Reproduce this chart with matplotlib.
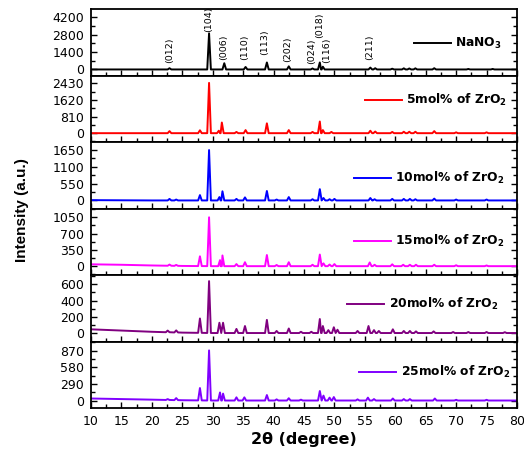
import matplotlib
matplotlib.use("Agg")
import matplotlib.pyplot as plt
import numpy as np
from matplotlib.ticker import MultipleLocator

plt.rcParams['font.family'] = 'DejaVu Sans'
plt.rcParams['mathtext.default'] = 'bf'

labels = ['NaNO$_3$', '5mol% of ZrO$_2$', '10mol% of ZrO$_2$',
          '15mol% of ZrO$_2$', '20mol% of ZrO$_2$', '25mol% of ZrO$_2$']
colors = ['black', '#ff0000', '#0000ff', '#ff00ff', '#800080', '#8000ff']

# peak positions (2theta) and heights
pos_nano3 = [22.9, 29.4, 31.9, 35.4, 38.9, 42.5, 46.4, 47.6, 48.1, 55.9, 56.7,
             59.5, 61.4, 62.3, 63.3, 66.4, 72, 76]
h_nano3 = [100, 2900, 500, 200, 560, 250, 80, 560, 220, 150, 100,
           60, 90, 80, 90, 100, 40, 40]

pos_5 = [22.9, 27.9, 29.4, 31.0, 31.5, 33.9, 35.4, 38.9, 42.5, 46.4, 47.6, 48.1,
         49.5, 55.9, 56.7, 59.5, 61.4, 62.3, 63.3, 66.4, 70, 75]
h_5 = [100, 140, 2450, 120, 520, 60, 150, 480, 150, 60, 570, 150,
       60, 120, 80, 60, 70, 70, 70, 100, 40, 40]

pos_10 = [22.9, 24.0, 27.9, 29.4, 31.1, 31.6, 33.9, 35.3, 38.9, 40.5, 42.5, 46.4,
          47.6, 48.2, 49.2, 50.0, 55.9, 56.6, 59.5, 61.4, 62.4, 63.3, 66.4, 70, 75]
h_10 = [50, 30, 175, 1650, 110, 300, 50, 100, 310, 30, 110, 40,
        370, 80, 40, 50, 80, 40, 50, 50, 50, 40, 60, 30, 30]

pos_15 = [22.9, 24.0, 27.9, 29.4, 31.2, 31.6, 33.9, 35.3, 38.9, 40.5, 42.5, 46.4,
          47.6, 48.2, 49.2, 50.0, 55.8, 56.6, 59.5, 61.3, 62.4, 63.4, 66.4, 70, 75]
h_15 = [25, 20, 210, 1050, 130, 230, 45, 85, 240, 25, 85, 30,
        250, 60, 35, 45, 80, 30, 40, 30, 30, 30, 30, 20, 15]

pos_20 = [22.6, 24.0, 27.9, 29.4, 31.1, 31.7, 33.9, 35.3, 38.9, 40.5, 42.5, 44.5,
          46.2, 47.6, 48.1, 49.0, 49.9, 50.5, 53.8, 55.6, 56.5, 57.3, 59.6, 61.4,
          62.4, 63.4, 66.3, 69.5, 72, 75, 78]
h_20 = [20, 25, 175, 630, 125, 125, 50, 85, 160, 25, 55, 15,
        15, 170, 85, 35, 70, 40, 25, 85, 35, 25, 45, 25,
        25, 20, 20, 12, 12, 12, 10]

pos_25 = [22.6, 24.0, 27.9, 29.4, 31.2, 31.7, 33.9, 35.2, 38.9, 40.5, 42.5, 44.5,
          47.6, 48.2, 49.2, 49.9, 53.8, 55.5, 56.5, 59.6, 61.4, 62.4, 66.5, 70, 75]
h_25 = [15, 35, 215, 870, 140, 120, 55, 55, 95, 20, 40, 15,
        165, 85, 50, 60, 20, 50, 25, 35, 25, 25, 35, 12, 12]

# background level read at a few angles
bg_x = [10, 15, 20, 25, 30, 80]
bg_nano3 = [0, 0, 0, 0, 0, 0]
bg_5 = [0, 0, 0, 0, 0, 0]
bg_10 = [10, 5, 0, 0, 0, 0]
bg_15 = [40, 30, 15, 5, 0, 0]
bg_20 = [50, 35, 20, 10, 5, 5]
bg_25 = [40, 30, 20, 10, 5, 5]

peaks = [(pos_nano3, h_nano3, bg_nano3), (pos_5, h_5, bg_5), (pos_10, h_10, bg_10),
         (pos_15, h_15, bg_15), (pos_20, h_20, bg_20), (pos_25, h_25, bg_25)]

yticks = [[0, 1400, 2800, 4200], [0, 810, 1620, 2430], [0, 550, 1100, 1650],
          [0, 350, 700, 1050], [0, 200, 400, 600], [0, 290, 580, 870]]
ylims = [(-485, 4850), (-430, 2810), (-264, 1914), (-190, 1240), (-98, 710), (-125, 1030)]

hkl = ['(012)', '(104)', '(006)', '(110)', '(113)', '(202)', '(024)', '(018)', '(116)', '(211)']
hkl_x = [23.0, 29.4, 31.85, 35.3, 38.6, 42.3, 46.2, 47.6, 48.7, 55.8]
hkl_y = [485, 2990, 727, 727, 1131, 566, 404, 2505, 485, 727]

leg_pos = [(0.758, 0.48), (0.643, 0.63), (0.617, 0.455),
           (0.617, 0.51), (0.601, 0.56), (0.629, 0.54)]

HW = 0.3


def trace(pos, h, bg):
    xs = list(bg_x)
    ys = list(bg)
    for p, v in zip(pos, h):
        b = np.interp(p, bg_x, bg)
        xs += [p - HW, p, p + HW]
        ys += [b, b + v, b]
    order = np.argsort(xs, kind='stable')
    return np.array(xs)[order], np.array(ys)[order]


fig, axes = plt.subplots(6, 1, figsize=(5.24, 4.55), dpi=100, sharex=True)
fig.subplots_adjust(left=91/524, right=517/524, top=1-9/455, bottom=1-408/455, hspace=0)

for i, ax in enumerate(axes):
    x, y = trace(*peaks[i])
    ax.plot(x, y, color=colors[i], lw=1.4, label=labels[i])
    ax.set_xlim(10, 80)
    ax.set_ylim(*ylims[i])
    ax.set_yticks(yticks[i])
    ax.yaxis.set_minor_locator(MultipleLocator(yticks[i][1] / 2))
    ax.xaxis.set_major_locator(MultipleLocator(5))
    ax.xaxis.set_minor_locator(MultipleLocator(2.5))
    ax.tick_params(which='both', direction='in', right=True, top=False, labelsize=9, pad=5, width=1)
    ax.tick_params(which='major', length=4)
    ax.tick_params(which='minor', length=3)
    for s in ax.spines.values():
        s.set_linewidth(1.3)
    ax.legend(loc='center left', bbox_to_anchor=leg_pos[i], frameon=False,
              borderpad=0, borderaxespad=0, handlelength=3.0, handletextpad=0.4,
              prop={'weight': 'bold', 'size': 8.8})

for lab, xx, yy in zip(hkl, hkl_x, hkl_y):
    axes[0].text(xx, yy, lab, rotation=90, ha='center', va='bottom', fontsize=6.8)

axes[-1].set_xlabel('2θ (degree)', fontsize=11.5, fontweight='bold', labelpad=3)
fig.text(22/524, 1-210/455, 'Intensity (a.u.)', rotation=90, ha='center', va='center',
         fontsize=11, fontweight='bold', family='Liberation Sans')

fig.savefig('out.png', dpi=100)
